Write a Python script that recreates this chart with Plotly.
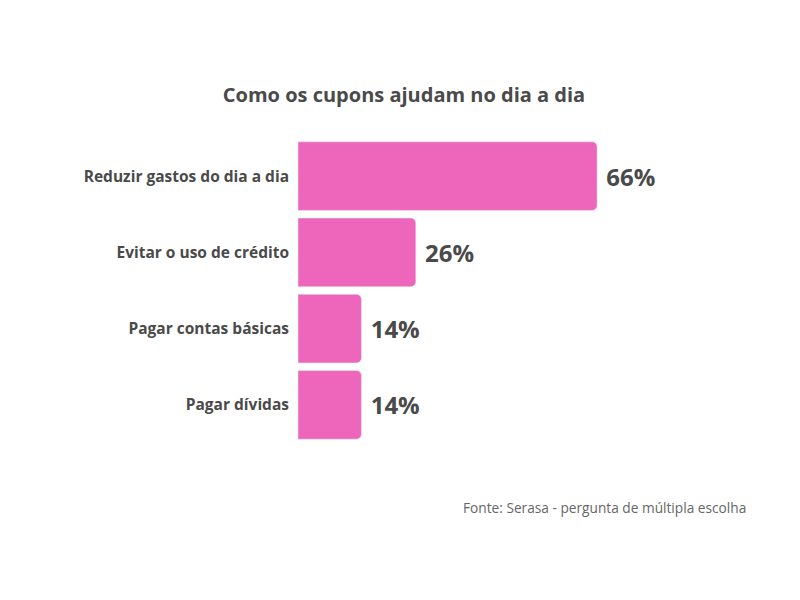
import plotly.graph_objects as go

categorias = ["Reduzir gastos do dia a dia", "Evitar o uso de crédito",
              "Pagar contas básicas", "Pagar dívidas"]
percentuais = [66, 26, 14, 14]
titulo = "Como os cupons ajudam no dia a dia"
fonte = "Fonte: Serasa - pergunta de múltipla escolha"

fig = go.Figure()
fig.add_trace(go.Bar(
    x=percentuais,
    y=categorias,
    orientation="h",
    marker=dict(color="#EE66BB"),
    # leading nbsp pushes the value a bit away from the bar end
    text=[f"\u00a0{v}%" for v in percentuais],
    textposition="outside",
    textfont=dict(family="Open Sans", size=24, color="#4a4a4a", weight="bold"),
    cliponaxis=False,
    hoverinfo="skip",
))

fig.update_layout(
    width=800, height=600,
    paper_bgcolor="white", plot_bgcolor="white",
    font=dict(family="Open Sans", color="#4a4a4a"),
    title=dict(text=f"<b>{titulo}</b>", x=0.495, xanchor="center", y=0.855, yanchor="middle",
               font=dict(size=20, color="#4a4a4a")),
    margin=dict(l=290, r=60, t=130, b=165),
    bargap=0.1,
    barcornerradius=5,
    showlegend=False,
    xaxis=dict(range=[0, 99.3], visible=False),
    yaxis=dict(autorange="reversed", showgrid=False, zeroline=False, showline=False,
               ticks="", ticklabelstandoff=8,
               tickfont=dict(size=15.5, color="#4a4a4a", weight="bold")),
)

fig.add_annotation(text=fonte, xref="paper", yref="paper", x=1, y=-0.21,
                   xanchor="right", yanchor="middle", showarrow=False,
                   font=dict(size=13.7, color="#666666"))

fig.write_html("out.html")
